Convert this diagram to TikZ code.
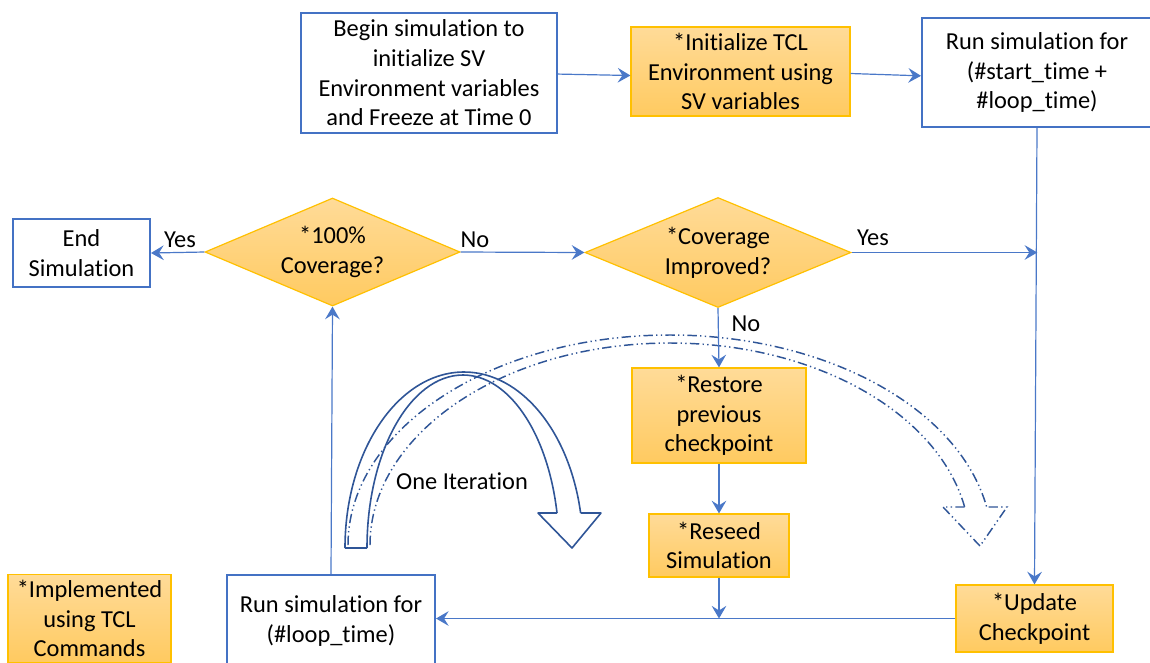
\documentclass[tikz,border=0pt]{standalone}
\usepackage{fontspec}
\setmainfont{Carlito}[Ligatures=NoCommon]
\usetikzlibrary{shapes.geometric, arrows.meta}
\definecolor{boxblue}{HTML}{4472C4}
\definecolor{linkblue}{HTML}{4A78C8}
\definecolor{goldedge}{HTML}{FFC000}
\definecolor{goldtop}{HTML}{FFDB98}
\definecolor{goldbot}{HTML}{FFCA60}
\definecolor{arcblue}{HTML}{2F5597}
\begin{document}
\begin{tikzpicture}[x=0.75pt, y=-0.75pt,
  font=\fontsize{18.3}{22.3}\selectfont,
  bluebox/.style={draw=boxblue, line width=1.5pt, fill=white, align=center, inner sep=0pt},
  goldbox/.style={draw=goldedge, line width=0.9pt, top color=goldtop, bottom color=goldbot, align=center, inner sep=0pt},
  decision/.style={diamond, aspect=2.36, draw=goldedge, line width=0.9pt, top color=goldtop, bottom color=goldbot, align=center, inner sep=0pt},
  link/.style={draw=linkblue, line width=0.9pt, -{Stealth[length=9.5pt,width=11pt,inset=3.5pt]}},
  lbl/.style={inner sep=0pt},
  ribbon/.style={draw=arcblue, line width=1.2pt, line join=round},
  ghost/.style={draw=arcblue, line width=1.1pt, dash pattern=on 7pt off 2.5pt on 1pt off 2.5pt on 1pt off 2.5pt}
]
\useasboundingbox (0,0) rectangle (1150,662);

% curved "iteration" arrows
\draw[ghost] (348,545) arc[start angle=180, end angle=349.6, x radius=322, y radius=210];
\draw[ghost] (370,545) arc[start angle=180, end angle=349.2, x radius=300, y radius=202];
\draw[ghost] (964.7,507) -- (943,507) -- (980,546) -- (1007,507) -- (986.7,507);

\draw[ribbon] (367,548) arc[start angle=180, end angle=348.3, x radius=96, y radius=173];
\draw[ribbon] (345,548) arc[start angle=180, end angle=348.5, x radius=119, y radius=176];
\draw[ribbon] (345,548) -- (367,548);
\draw[ribbon] (557,513) -- (538,513) -- (572,548) -- (601,513) -- (580.6,513);

% process boxes
\node[bluebox, minimum width=192pt, minimum height=90pt] (begin) at (429,73)
  {Begin simulation to\\initialize SV\\Environment variables\\and Freeze at Time 0};
\node[goldbox, minimum width=164.25pt, minimum height=66.75pt] (init) at (740.5,71.5)
  {*Initialize TCL\\Environment using\\SV variables};
\node[bluebox, minimum width=172.5pt, minimum height=81.75pt] (runtop) at (1037,72.5)
  {Run simulation for\\(\#start\_time +\\\#loop\_time)};
\node[bluebox, minimum width=102.75pt, minimum height=51pt] (endsim) at (81.5,253)
  {End\\Simulation};
\node[decision, minimum width=191.25pt, minimum height=81pt] (full) at (332.5,252)
  {*100\%\\Coverage?};
\node[decision, minimum width=199.5pt, minimum height=82.5pt] (better) at (718,252.5)
  {*Coverage\\Improved?};
\node[goldbox, minimum width=130.5pt, minimum height=71.25pt] (restore) at (719,415.5)
  {*Restore\\previous\\checkpoint};
\node[goldbox, minimum width=105pt, minimum height=47.25pt] (reseed) at (719,545.5)
  {*Reseed\\Simulation};
\node[goldbox, minimum width=117.75pt, minimum height=50.25pt] (update) at (1034.5,618.5)
  {*Update\\Checkpoint};
\node[bluebox, minimum width=156pt, minimum height=69pt] (runloop) at (331,621)
  {Run simulation for\\(\#loop\_time)};
\node[goldbox, minimum width=122.25pt, minimum height=66pt] (note) at (89.5,618.5)
  {*Implemented\\using TCL\\Commands};

\coordinate (yesjoin) at (1037.3,252.5);

% connectors
\draw[link] ([yshift=-0.8pt]begin.east) -- ([yshift=-3pt]init.west);
\draw[link] ([yshift=-1.5pt]init.east) -- ([yshift=-2.5pt]runtop.west);
\draw[link] (runtop.south) -- (update.north);
\draw[link] (better.east) -- (yesjoin);
\draw[link] (full.east) -- (better.west);
\draw[link] (full.west) -- (endsim.east);
\draw[link] (better.south) -- (restore.north);
\draw[link] (restore.south) -- (reseed.north);
\draw[link] (reseed.south) -- (reseed.south |- update.west);
\draw[link] (update.west) -- (update.west -| runloop.east);
\draw[link] (runloop.north) -- (full.south);

% branch labels
\node[lbl] (yesleft) at (180,240) {Yes};
\node[lbl] (nomid) at (475,240) {No};
\node[lbl] (yesright) at (873,238) {Yes};
\node[lbl] (nodown) at (746,324) {No};
\node[lbl] (iter) at (462,481) {One Iteration};
\end{tikzpicture}
\end{document}
